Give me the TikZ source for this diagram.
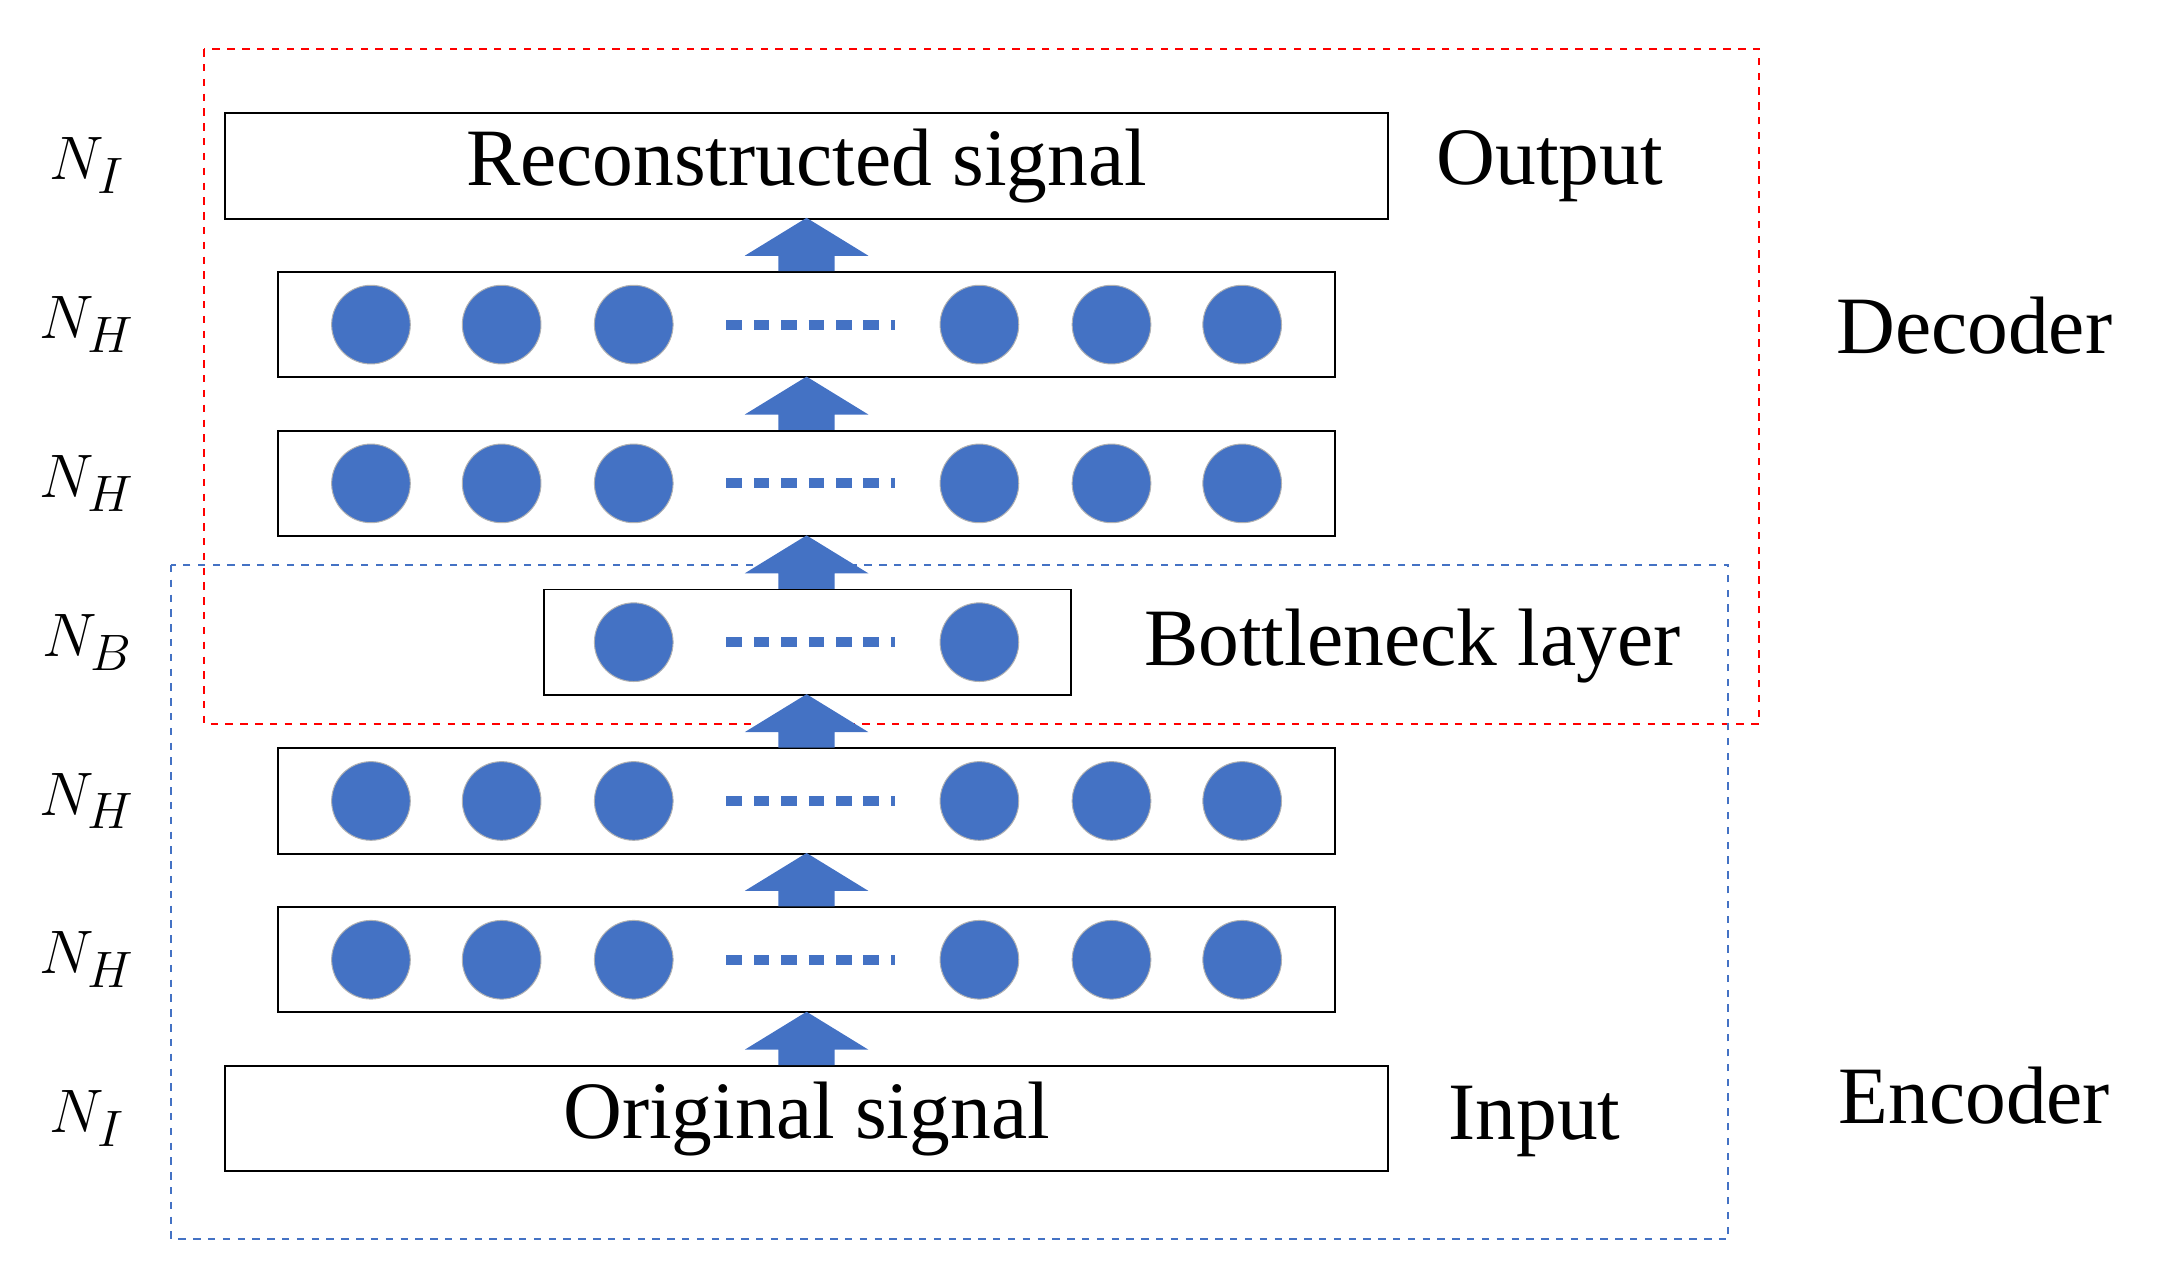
\documentclass[tikz,border=0pt]{standalone}
\usepackage{fontspec}
\setmainfont{Liberation Serif}
\begin{document}
\begin{tikzpicture}[x=0.02cm,y=-0.02cm,
  box/.style={draw,thick,minimum height=75*0.02cm,inner sep=0},
  neu/.style={circle,fill=blu,draw=gray!60,minimum size=56*0.02cm,inner sep=0},
  lab/.style={font=\fontsize{30}{30}\selectfont},
  big/.style={font=\fontsize{33}{33}\selectfont},
  dots/.style={blu,line width=7*0.02cm,dash pattern=on 11*0.02cm off 8.5*0.02cm},
  up/.style={fill=blu,draw=none}]
\definecolor{blu}{HTML}{4472C4}
\useasboundingbox (0,0) rectangle (1545,897);
\draw[red,dashed,thick] (145,35) rectangle (1252,515);
\draw[blu,dashed,thick] (122,402) rectangle (1230,882);
\node[box,minimum width=828*0.02cm,big] (out) at (574,118) {Reconstructed signal};
\node[box,minimum width=828*0.02cm,big] (in) at (574,796) {Original signal};
\foreach \n/\y in {h1/231,h2/344,h3/570,h4/683}{
  \node[box,minimum width=752*0.02cm] (\n) at (574,\y) {};
  \foreach \x in {264,357,451,697,791,884} \node[neu] at (\x,\y) {};
  \draw[dots] (517,\y) -- (637,\y);
}
\node[box,minimum width=375*0.02cm] (b) at (574.5,457) {};
\foreach \x in {451,697} \node[neu] at (\x,457) {};
\draw[dots] (517,457) -- (637,457);
\foreach \t in {155,268,381,494,607,720}{
  \fill[up] (554,\t+38) -- (554,\t+27) -- (530,\t+27) -- (574,\t) -- (618,\t+27) -- (594,\t+27) -- (594,\t+38) -- cycle;
}
\foreach \y/\s in {118/I,231/H,344/H,457/B,570/H,683/H,796/I}
  \node[lab] at (62,\y) {$N_{\s}$};
\node[big] (o) at (1103,118) {Output};
\node[big] (bl) at (1005,460) {Bottleneck layer};
\node[big] (i) at (1092,798) {Input};
\node[big] (d) at (1405,232) {Decoder};
\node[big] (e) at (1405,780) {Encoder};
\end{tikzpicture}
\end{document}
